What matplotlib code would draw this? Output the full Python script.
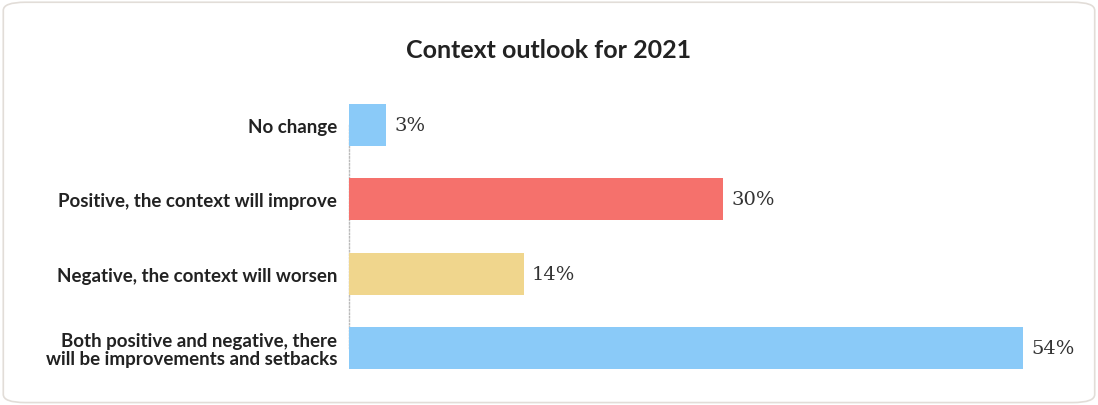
import matplotlib.pyplot as plt
from matplotlib.patches import FancyBboxPatch

categories = ['No change',
              'Positive, the context will improve',
              'Negative, the context will worsen',
              'Both positive and negative, there\nwill be improvements and setbacks']
values = [3, 30, 14, 54]
colors = ['#8ACAF8', '#F5716C', '#F0D68D', '#8ACAF8']
value_labels = ['3%', '30%', '14%', '54%']

fig = plt.figure(figsize=(10.98, 4.06), dpi=100)

# rounded card border
card = FancyBboxPatch((0.003, 0.006), 0.994, 0.986,
                      boxstyle='round,pad=0,rounding_size=0.02',
                      transform=fig.transFigure, facecolor='white',
                      edgecolor='#e2ddd8', linewidth=1.2, zorder=-1)
fig.patches.append(card)

fig.text(0.5, 0.875, 'Context outlook for 2021', ha='center', va='center',
         fontsize=18, fontweight='bold', family='Lato', color='#222222')

ax = fig.add_axes([349 / 1098, 1 - 386 / 406, (1023 - 349) / 1098, (386 - 89) / 406])
ax.set_facecolor('none')
y = range(len(categories))
ax.barh(y, values, height=0.565, color=colors, zorder=2)
ax.set_xlim(0, 54)
ax.set_ylim(3.5, -0.5)

for i, (v, lab) in enumerate(zip(values, value_labels)):
    ax.annotate(lab, (v, i), xytext=(6, 0), textcoords='offset points',
                va='center', ha='left', fontsize=14, family='DejaVu Serif',
                color='#333333', annotation_clip=False)

ax.set_yticks(list(y))
ax.set_yticklabels(categories, fontsize=13.5, fontweight='bold', family='Lato',
                   color='#222222', linespacing=1.05)
ax.tick_params(axis='y', length=0, pad=8.5)
for lab in ax.get_yticklabels():
    lab.set_multialignment('right')
ax.set_xticks([])
for side in ['top', 'right', 'bottom']:
    ax.spines[side].set_visible(False)
# dotted baseline only between the bars
ax.spines['left'].set_bounds(0, 3)
ax.spines['left'].set_linestyle((0, (1, 1.5)))
ax.spines['left'].set_color('#bbbbbb')
ax.spines['left'].set_linewidth(1)
ax.spines['left'].set_zorder(1)

fig.savefig('out.png', dpi=100)
